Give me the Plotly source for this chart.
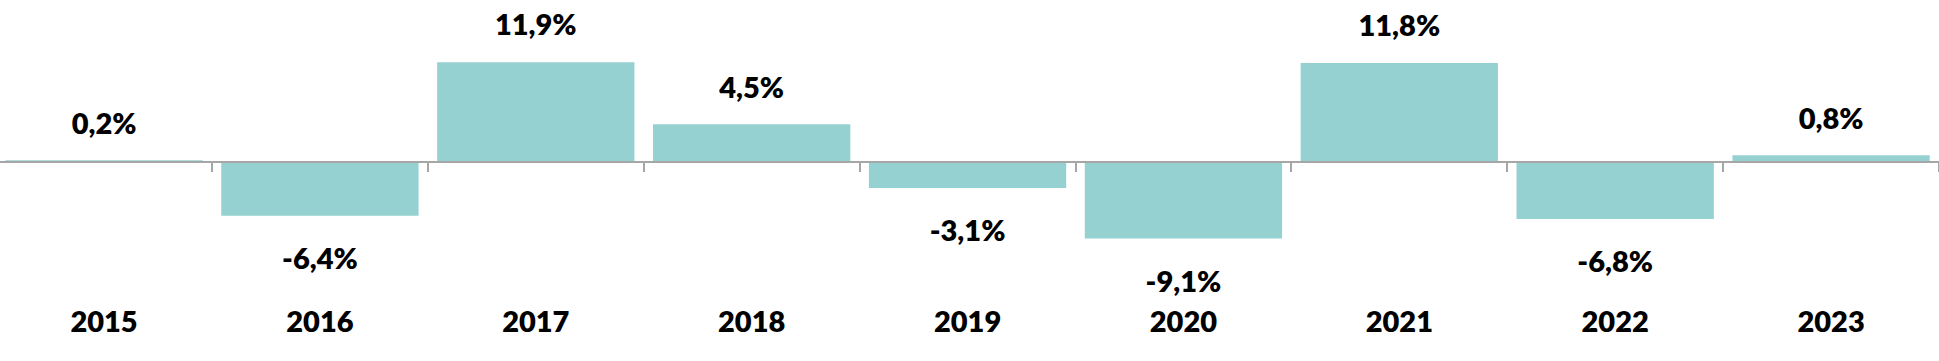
import plotly.graph_objects as go

years = ["2015", "2016", "2017", "2018", "2019", "2020", "2021", "2022", "2023"]
returns = [0.2, -6.4, 11.9, 4.5, -3.1, -9.1, 11.8, -6.8, 0.8]

BAR_COLOR = "#96D1D1"
AXIS_COLOR = "#A6A6A6"
FONT = "Lato"
W, H = 1939, 361

y_min, y_max = -23.7, 19.3
zero_pos = (0 - y_min) / (y_max - y_min)
px_per_unit = H / (y_max - y_min)

labels = [f"{v:.1f}".replace(".", ",") + "%" for v in returns]
label_y = [v + (34 if v >= 0 else -46) / px_per_unit for v in returns]

fig = go.Figure()
fig.add_trace(go.Bar(
    x=years, y=returns,
    marker=dict(color=BAR_COLOR, line=dict(width=0)),
    hoverinfo="skip",
))
fig.add_trace(go.Scatter(
    x=years, y=label_y, mode="text", text=labels,
    textposition="middle center",
    textfont=dict(family=FONT, size=29, color="black", weight=800),
    hoverinfo="skip",
))

fig.update_layout(
    width=W, height=H,
    margin=dict(l=0, r=0, t=0, b=0),
    plot_bgcolor="white", paper_bgcolor="white",
    bargap=0.086, showlegend=False,
    xaxis=dict(
        type="category", range=[-0.482, 8.5],
        anchor="free", position=zero_pos,
        showline=True, linecolor=AXIS_COLOR, linewidth=1.5,
        ticks="outside", tickson="boundaries", ticklen=9, tickwidth=1.5,
        tickcolor=AXIS_COLOR, showgrid=False,
        tickfont=dict(family=FONT, size=29, color="black", weight=800),
        ticklabelstandoff=134,
    ),
    yaxis=dict(range=[y_min, y_max], visible=False, showgrid=False, zeroline=False),
)

fig.write_html("out.html", config={"displayModeBar": False},
               post_script="document.body.style.margin='0';")
